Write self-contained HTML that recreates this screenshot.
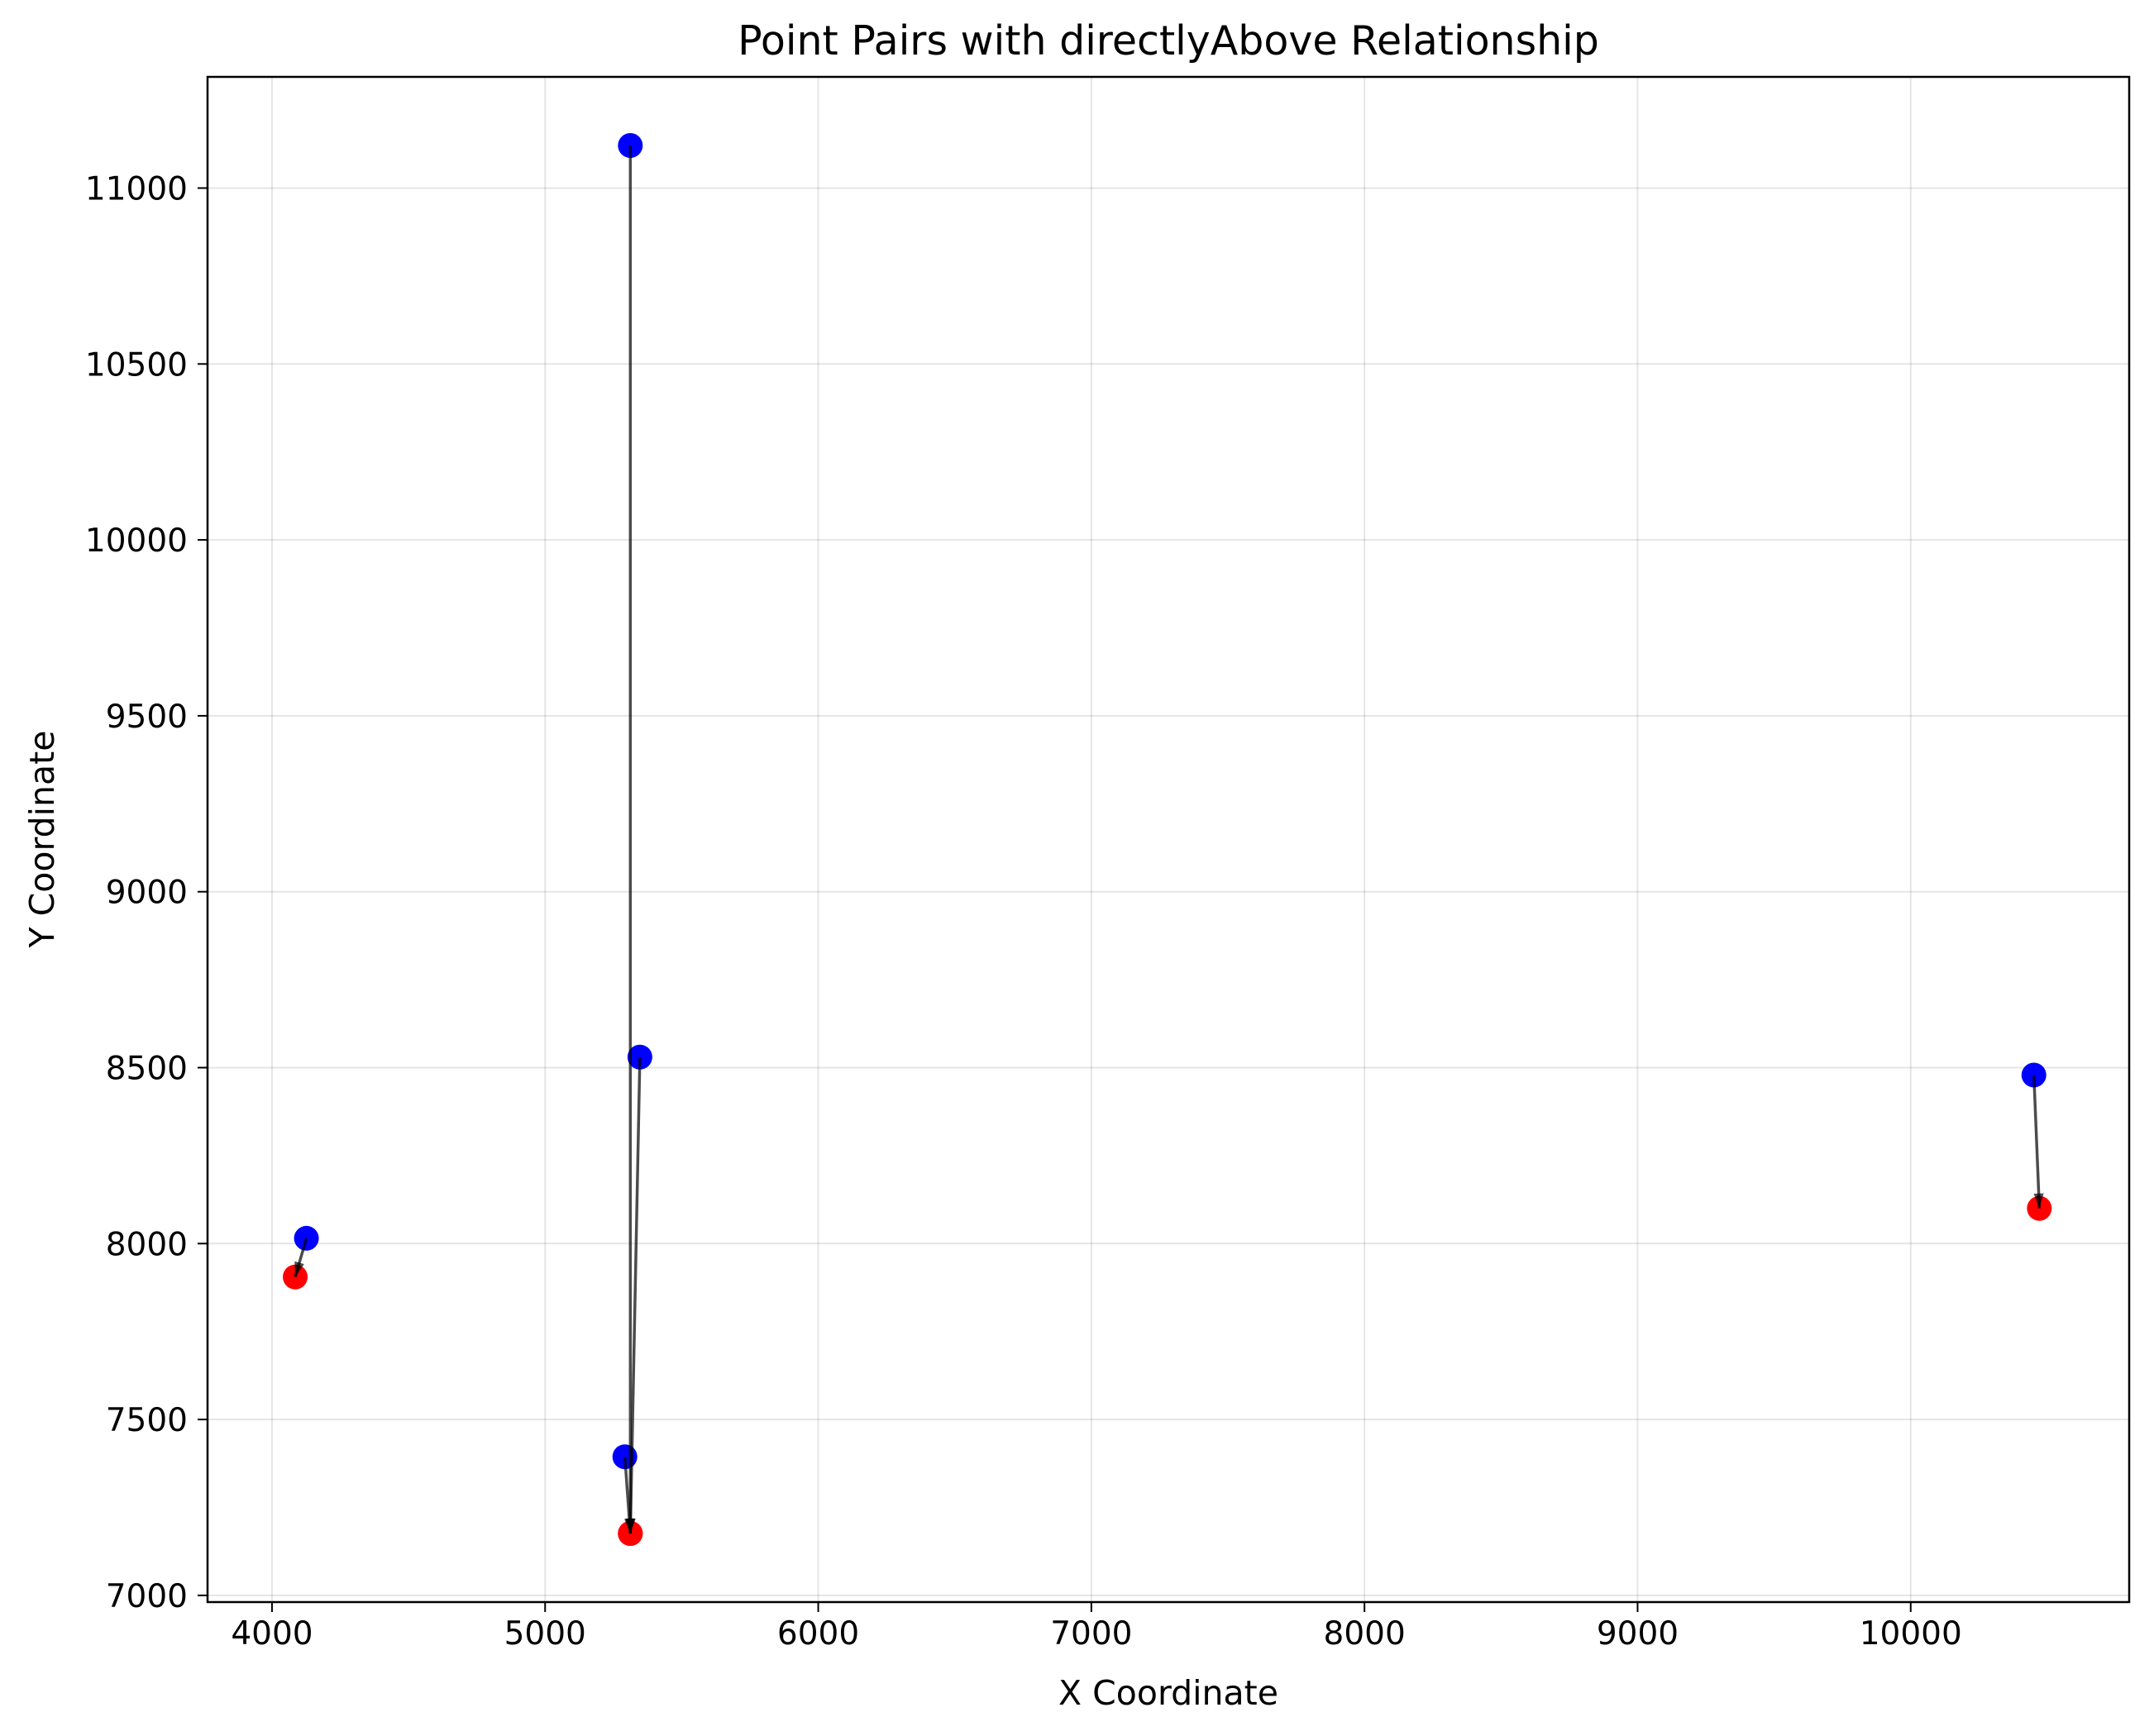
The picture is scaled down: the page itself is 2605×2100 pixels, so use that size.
<!DOCTYPE html>
<html><head><meta charset="utf-8"><style>
html,body{margin:0;padding:0;background:#fff;}
svg{display:block;font-family:"DejaVu Sans","Liberation Sans",sans-serif;}
</style></head><body>
<svg id="chart" width="2605" height="2100" viewBox="0 0 2605 2100" xmlns="http://www.w3.org/2000/svg">
<text x="1413" y="66" font-size="49" text-anchor="middle">Point Pairs with directlyAbove Relationship</text>
<text x="1413" y="2062" font-size="41" text-anchor="middle">X Coordinate</text>
<text x="0" y="0" font-size="41" text-anchor="middle" transform="translate(65,1015) rotate(-90)">Y Coordinate</text>
<g id="grid"></g>
<g id="ticks"></g>
<g id="marks"></g>
<rect x="251" y="93" width="2324" height="1845" fill="none" stroke="#000" stroke-width="2.5"/>
</svg>
<script>
const xTicks=[4000,5000,6000,7000,8000,9000,10000];
const yTicks=[7000,7500,8000,8500,9000,9500,10000,10500,11000];
const srcX=[4126,5312,5347,5292,10451];
const srcY=[8015,11121,8530,7394,8479];
const dstX=[4085,5312,5312,5312,10471];
const dstY=[7905,7176,7176,7176,8100];
const L=251,R=2575,T=93,B=1938;
const xMin=3764,xMax=10800,yMin=6981,yMax=11316;
const sx=v=>L+(v-xMin)/(xMax-xMin)*(R-L);
const sy=v=>B-(v-yMin)/(yMax-yMin)*(B-T);
const NS="http://www.w3.org/2000/svg";
function mk(tag,attrs,parent){const e=document.createElementNS(NS,tag);for(const k in attrs)e.setAttribute(k,attrs[k]);parent.appendChild(e);return e;}
const grid=document.getElementById('grid'),ticks=document.getElementById('ticks'),marks=document.getElementById('marks');
xTicks.forEach(v=>{
 const g=mk('line',{x1:sx(v),x2:sx(v),y1:T,y2:B,stroke:'#000','stroke-opacity':0.1,'stroke-width':2},grid);
 
 
 const t=mk('line',{x1:sx(v),x2:sx(v),y1:B,y2:B+12,stroke:'#000','stroke-width':2},ticks);
 
 
 const l=mk('text',{x:sx(v),y:B+51,'font-size':39,'text-anchor':'middle'},ticks);l.textContent=v;
 
 
});
yTicks.forEach(v=>{
 const g=mk('line',{x1:L,x2:R,y1:sy(v),y2:sy(v),stroke:'#000','stroke-opacity':0.1,'stroke-width':2},grid);
 
 
 const t=mk('line',{x1:L-12,x2:L,y1:sy(v),y2:sy(v),stroke:'#000','stroke-width':2},ticks);
 
 
 const l=mk('text',{x:L-24,y:sy(v)+14,'font-size':39,'text-anchor':'end'},ticks);l.textContent=v;
 
 
});
srcX.forEach((v,i)=>{
 const a=mk('circle',{cx:sx(v),cy:sy(srcY[i]),r:15,fill:'#0000ff'},marks);
 
 
 const b=mk('circle',{cx:sx(dstX[i]),cy:sy(dstY[i]),r:15,fill:'#ff0000'},marks);
 
 
});
srcX.forEach((v,i)=>{
 const x1=sx(v),y1=sy(srcY[i]),x2=sx(dstX[i]),y2=sy(dstY[i]);
 const ln=mk('line',{x1:x1,y1:y1,x2:x2,y2:y2,stroke:'#000','stroke-opacity':0.7,'stroke-width':3.5},marks);
 
 
 const ang=Math.atan2(y2-y1,x2-x1),h=18,w=6;
 const p=[[x2,y2],[x2-h*Math.cos(ang)+w*Math.sin(ang),y2-h*Math.sin(ang)-w*Math.cos(ang)],[x2-h*Math.cos(ang)-w*Math.sin(ang),y2-h*Math.sin(ang)+w*Math.cos(ang)]];
 const hd=mk('polygon',{points:p.map(q=>q.join(',')).join(' '),fill:'#000','fill-opacity':0.7},marks);
 
 
});
</script>
</body></html>
